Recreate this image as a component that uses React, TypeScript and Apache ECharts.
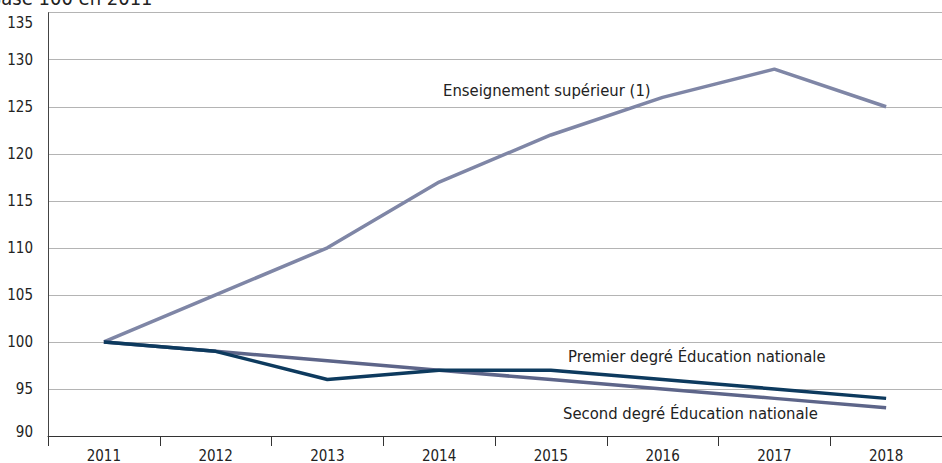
import React, { useEffect, useRef } from "react";
import * as echarts from "echarts";

const years = ["2011", "2012", "2013", "2014", "2015", "2016", "2017", "2018"];
const superieur = [100, 105, 110, 117, 122, 126, 129, 125];
const premierDegre = [100, 99, 96, 97, 97, 96, 95, 94];
const secondDegre = [100, 99, 98, 97, 96, 95, 94, 93];
const yMin = 90;
const yMax = 135;
const yStep = 5;

const FONT = "'DejaVu Sans Condensed', 'Liberation Sans', sans-serif";

export default function App() {
  const ref = useRef<HTMLDivElement>(null);
  useEffect(() => {
    if (!ref.current) return;
    const chart = echarts.init(ref.current, null, { renderer: "svg" });
    chart.setOption({
      animation: false,
      backgroundColor: "#ffffff",
      textStyle: { fontFamily: FONT },
      grid: { left: 48, right: -5, top: 12.7, bottom: 26.3, containLabel: false },
      xAxis: {
        type: "category",
        data: years,
        boundaryGap: true,
        axisLine: { lineStyle: { color: "#333333", width: 1 } },
        axisTick: { show: true, length: 10, alignWithLabel: false, lineStyle: { color: "#333333" } },
        axisLabel: { color: "#222222", fontSize: 15, fontFamily: FONT, margin: 12 },
        splitLine: { show: false },
      },
      yAxis: {
        type: "value",
        min: yMin,
        max: yMax,
        interval: yStep,
        axisLine: { show: true, lineStyle: { color: "#444444", width: 1 } },
        axisTick: { show: false },
        axisLabel: {
          color: "#222222",
          fontSize: 15,
          fontFamily: FONT,
          margin: 15,
          formatter: (v: number) => (v === yMin ? "{min|" + v + "}" : v === yMax ? "{max|" + v + "}" : String(v)),
          rich: {
            min: { fontSize: 15, fontFamily: FONT, color: "#222222", padding: [0, 0, 8, 0] },
            max: { fontSize: 15, fontFamily: FONT, color: "#222222", padding: [20, 0, 0, 0] },
          },
        },
        splitLine: { lineStyle: { color: "#b4b4b4", width: 1 } },
      },
      series: [
        {
          name: "Enseignement supérieur (1)",
          type: "line",
          data: superieur,
          symbol: "none",
          lineStyle: { color: "#7f86a6", width: 3.5 },
          z: 2,
        },
        {
          name: "Second degré Éducation nationale",
          type: "line",
          data: secondDegre,
          symbol: "none",
          lineStyle: { color: "#5d6589", width: 3.5 },
          z: 3,
        },
        {
          name: "Premier degré Éducation nationale",
          type: "line",
          data: premierDegre,
          symbol: "none",
          lineStyle: { color: "#0d3a5e", width: 3.5 },
          z: 4,
        },
      ],
      graphic: [
        {
          type: "text",
          x: -11,
          y: -12.5,
          style: { text: "Base 100 en 2011", fontSize: 20, fontFamily: FONT, fill: "#222222" },
        },
        {
          type: "text",
          x: 443,
          y: 90,
          style: { text: "Enseignement supérieur (1)", fontSize: 16.5, fontFamily: FONT, fill: "#222222", verticalAlign: "middle" },
        },
        {
          type: "text",
          x: 568,
          y: 356,
          style: { text: "Premier degré Éducation nationale", fontSize: 16.5, fontFamily: FONT, fill: "#222222", verticalAlign: "middle" },
        },
        {
          type: "text",
          x: 563,
          y: 413,
          style: { text: "Second degré Éducation nationale", fontSize: 16.5, fontFamily: FONT, fill: "#222222", verticalAlign: "middle" },
        },
      ],
    });
    return () => chart.dispose();
  }, []);
  return <div ref={ref} style={{ width: 942, height: 463, position: "absolute", left: 0, top: 0 }} />;
}
